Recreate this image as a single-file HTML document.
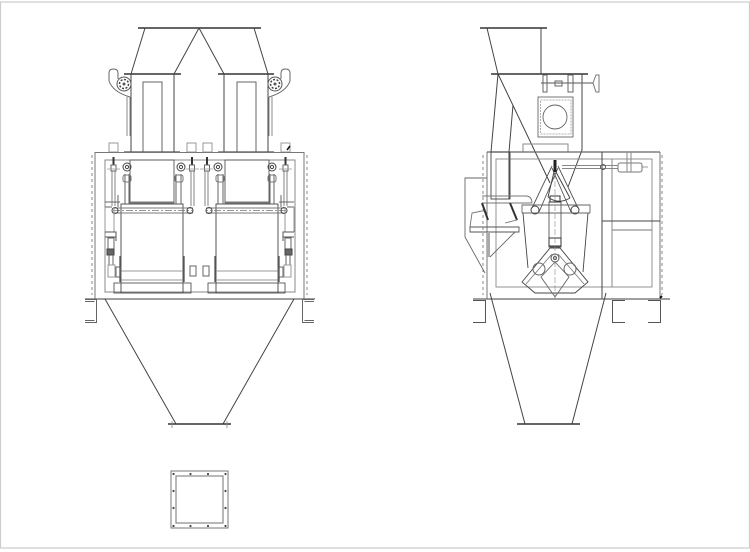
<!DOCTYPE html>
<html><head><meta charset="utf-8"><style>
html,body{margin:0;padding:0;background:#fff;width:750px;height:552px;overflow:hidden}
svg{display:block}
</style></head><body>
<svg xmlns="http://www.w3.org/2000/svg" width="750" height="552" viewBox="0 0 750 552" fill="none" stroke-linecap="butt">
<rect x="0.5" y="2" width="749" height="546" stroke="#ccc" stroke-width="1.2"/>
<defs>
<g id="half">
  <rect x="130" y="160" width="44" height="43" stroke="#555" stroke-width="0.9"/>
  <path d="M130 202.500H174" stroke="#777" stroke-width="2"/>
  <rect x="121" y="204" width="62" height="89" stroke="#444" stroke-width="0.9"/>
  <rect x="114" y="283" width="77" height="10" stroke="#555" stroke-width="0.9"/>
  <path d="M121 271H183M121 280H183" stroke="#999" stroke-width="0.9"/>
  <path d="M113 208H193M113 213H193" stroke="#777" stroke-width="0.9"/>
  <path d="M113 210.500H193" stroke="#777" stroke-width="0.7" stroke-dasharray="7 2 2 2"/>
  <circle cx="115" cy="210.500" r="3" stroke="#444"/><circle cx="190" cy="210.500" r="3" stroke="#444"/>
  <path d="M125 174V204M129 174V204M176 174V204M181 174V204" stroke="#555" stroke-width="0.9"/>
  <circle cx="127" cy="167" r="4" stroke="#444"/><circle cx="127" cy="167" r="1.600" stroke="#444"/>
  <circle cx="181" cy="167" r="4" stroke="#444"/><circle cx="181" cy="167" r="1.600" stroke="#444"/>
  <rect x="123" y="175" width="8" height="7" rx="2" stroke="#777"/>
  <rect x="175" y="175" width="8" height="7" rx="2" stroke="#777"/>
  <path d="M113.500 157V165" stroke="#333" stroke-width="2"/>
  <path d="M192 157V165" stroke="#333" stroke-width="2"/>
  <rect x="111" y="165" width="5" height="6" stroke="#666"/>
  <rect x="189.500" y="165" width="5" height="6" stroke="#666"/>
  <path d="M107 169H120M186 169H199" stroke="#999" stroke-width="0.7"/>
  <path d="M112 171V206M115 171V206M191 171V206M194 171V206" stroke="#777" stroke-width="0.9"/>
  <path d="M105 202H120M105 207H112M118 195V207" stroke="#666"/>
  <path d="M105 207V232M114 207V232" stroke="#999"/>
  <path d="M105 232H116V241M105 237H116" stroke="#555"/>
  <rect x="108" y="238" width="6" height="12" stroke="#666"/>
  <rect x="107" y="249" width="7" height="6" fill="#666" stroke="#444"/>
  <path d="M109 255V265M113 255V265" stroke="#666"/>
  <rect x="108" y="265" width="7" height="12" stroke="#999"/>
  <rect x="116" y="267" width="5" height="10" stroke="#666"/>
  <path d="M120 256V282M184 256V282" stroke="#555" stroke-width="1.300"/>
  <rect x="190" y="266" width="6" height="10" stroke="#666"/>
</g>
<g id="foot">
  <path d="M85 299.500H96.500V322.500H85M85 301.500H94.500M85 320.500H94.500" stroke="#666" stroke-width="1"/>
</g>
<g id="toph">
  <circle cx="124" cy="84" r="7" stroke="#555" stroke-width="1"/>
  <circle cx="124" cy="84" r="4.500" stroke="#444" stroke-width="1.500" stroke-dasharray="2 1.500"/>
  <circle cx="124" cy="84" r="1.500" fill="#555"/>
  <path d="M109 81V73Q109 69 113.500 69Q118 69 118 73V79M109 81Q113 92 130 97" stroke="#666" stroke-width="1"/>
  <path d="M127 97V136M130 97V136" stroke="#888" stroke-width="1"/>
</g>
</defs>

<!-- FRONT VIEW -->
<g stroke="#333">
  <path d="M138 28H261" stroke-width="1.500"/>
  <path d="M124 74H181M218 74H274" stroke-width="1.400"/>
  <path d="M145 28L131 74M199 28L174 74M199 28L224 74M254 28L268 74" stroke="#444" stroke-width="1"/>
  <path d="M131 74V152M174 74V152M224 74V152M268 74V152" stroke="#444" stroke-width="1"/>
</g>
<rect x="143" y="82" width="19" height="70" stroke="#555" stroke-width="0.9"/>
<rect x="237" y="82" width="19" height="70" stroke="#555" stroke-width="0.9"/>
<use href="#toph"/>
<use href="#toph" transform="translate(399 0) scale(-1 1)"/>
<path d="M124 152H180M218 152H274" stroke="#555" stroke-width="1.300"/>
<g stroke="#999" stroke-width="1">
  <rect x="109" y="143" width="9" height="9"/><rect x="187" y="143" width="9" height="9"/>
  <rect x="203" y="143" width="9" height="9"/><rect x="281" y="143" width="9" height="9"/>
</g>
<path d="M287 150L290 146" stroke="#111" stroke-width="1.500"/>
<rect x="95" y="152.500" width="209" height="146.500" stroke="#777" stroke-width="1"/>
<rect x="105" y="160" width="190" height="132" stroke="#888" stroke-width="1"/>
<path d="M92 155V295M307 155V295" stroke="#888" stroke-width="1" stroke-dasharray="3 3"/>
<use href="#half"/>
<use href="#half" transform="translate(399 0) scale(-1 1)"/>
<path d="M85 299H315" stroke="#666" stroke-width="1.200"/>
<use href="#foot"/>
<use href="#foot" transform="translate(399 0) scale(-1 1)"/>
<path d="M105 299L176 424M294 299L223 424" stroke="#444" stroke-width="1"/>
<path d="M168 424H231" stroke="#333" stroke-width="1.400"/>
<path d="M172 421V428M227 421V428" stroke="#888" stroke-width="0.8"/>

<!-- PLAN -->
<rect x="171" y="471" width="57" height="57" stroke="#777" stroke-width="1"/>
<rect x="176" y="476" width="47" height="47" stroke="#888" stroke-width="1.200"/>
<g fill="#444">
  <circle cx="173.500" cy="474" r="1.100"/><circle cx="190.500" cy="474" r="1.100"/><circle cx="208" cy="474" r="1.100"/><circle cx="225.500" cy="474" r="1.100"/>
  <circle cx="173.500" cy="526" r="1.100"/><circle cx="190.500" cy="526" r="1.100"/><circle cx="208" cy="526" r="1.100"/><circle cx="225.500" cy="526" r="1.100"/>
  <circle cx="173.500" cy="491" r="1.100"/><circle cx="173.500" cy="508" r="1.100"/><circle cx="225.500" cy="491" r="1.100"/><circle cx="225.500" cy="508" r="1.100"/>
</g>

<!-- SIDE VIEW -->
<path d="M480 28H547" stroke="#333" stroke-width="1.400"/>
<path d="M491 74H588" stroke="#333" stroke-width="1.400"/>
<path d="M487 28L498 74L491 152M541 28V74M498 74L550 183M513 105L509 152V199M582 74V150L568 187" stroke="#444" stroke-width="1"/>
<rect x="538" y="97" width="35" height="40" stroke="#666" stroke-width="0.9"/>
<rect x="540.500" y="100" width="30.500" height="34" stroke="#999" stroke-width="0.8" stroke-dasharray="2 1"/>
<circle cx="555" cy="117" r="12" stroke="#666" stroke-width="0.9"/>
<path d="M541 83H593" stroke="#777" stroke-width="1.200"/>
<rect x="543" y="75" width="4" height="17" stroke="#666"/>
<rect x="568" y="75" width="5" height="17" stroke="#666"/>
<rect x="555" y="81" width="7" height="5" stroke="#666"/>
<path d="M593 83L596 75H599V92H596Z" stroke="#777"/>
<rect x="523" y="144" width="45" height="8" stroke="#888"/>
<path d="M487 152H660" stroke="#666" stroke-width="1.200"/>
<path d="M487 152V299M660 152V299" stroke="#777" stroke-width="1"/>
<rect x="496" y="159" width="156" height="128" stroke="#888" stroke-width="0.9"/>
<path d="M602 152V299" stroke="#444" stroke-width="1"/>
<path d="M612 159V287" stroke="#888"/>
<path d="M602 221H660" stroke="#444" stroke-width="0.9"/>
<path d="M612 230H652" stroke="#777" stroke-width="0.9"/>
<path d="M483 155V295M662 155V295" stroke="#888" stroke-width="1" stroke-dasharray="3 3"/>
<!-- actuator top right -->
<path d="M562 165.500H618M562 168.500H618" stroke="#888"/>
<path d="M642 167H648" stroke="#999"/>
<rect x="618" y="163" width="24" height="9" rx="2" stroke="#777"/>
<path d="M627 152V172M631 152V172" stroke="#888"/>
<circle cx="603" cy="167" r="2.500" stroke="#555"/>
<!-- hatch side -->
<path d="M487 178H465V237L485 273" stroke="#666" stroke-width="0.9"/>
<rect x="491" y="152" width="19" height="47" stroke="#444" stroke-width="0.9"/>
<path d="M482 196H527Q532 197 532 203M482 203H532" stroke="#777" stroke-width="0.9"/>
<path d="M482 203L488 220M510 203L517 220" stroke="#333" stroke-width="2"/>
<path d="M482 211L472 213L470 227M517 220L505 223" stroke="#777" stroke-width="0.9"/>
<path d="M470 227H519V232H470Z" stroke="#555" stroke-width="0.9"/>
<path d="M515 232L490 257" stroke="#666" stroke-width="0.9"/>
<path d="M488.500 232V257" stroke="#aaa" stroke-width="3"/>
<!-- bucket -->
<path d="M522 213V205H590V213M522 213H590" stroke="#666" stroke-width="0.9"/>
<path d="M523 213L528 268M588 213L583 272" stroke="#444" stroke-width="0.9"/>
<path d="M522 282L550 248H560L588 282L575 293H535L522 282Z" stroke="#444" stroke-width="0.9"/>
<path d="M526 284L552 254M584 284L558 254" stroke="#777" stroke-width="0.8"/>
<circle cx="539" cy="269" r="6" stroke="#666"/><circle cx="570" cy="269" r="6" stroke="#666"/>
<path d="M555 262L541 277L555 297L569 277L555 262" stroke="#666" stroke-width="0.9"/>
<circle cx="555" cy="258" r="4" stroke="#555"/>
<circle cx="555" cy="258" r="1.500" stroke="#555"/>
<rect x="549" y="202" width="12" height="45" stroke="#555" stroke-width="0.9"/>
<rect x="549" y="238" width="12" height="8" stroke="#333"/>
<path d="M555 165V300" stroke="#888" stroke-width="0.6" stroke-dasharray="6 2"/>
<!-- arms -->
<path d="M552 166L532 208M558 168L539 212M558 166L578 208M552 168L571 212" stroke="#555" stroke-width="0.9"/>
<path d="M554 172L548 197M556 172L570 198" stroke="#444" stroke-width="1"/>
<path d="M548 197Q558 205 570 198" stroke="#444" stroke-width="0.9"/>
<path d="M555 160V172" stroke="#222" stroke-width="3"/>
<circle cx="535" cy="210" r="4" stroke="#444"/><circle cx="575" cy="210" r="4" stroke="#444"/>
<rect x="550" y="196" width="10" height="6" stroke="#333"/>
<!-- base and feet right -->
<path d="M473 299H670" stroke="#666" stroke-width="1.200"/>
<path d="M473 300.500H485.500V322.500H473" stroke="#555"/>
<path d="M625 300.500H612.500V322.500H625M648 300.500H660.500V322.500H648" stroke="#555"/>
<path d="M660 298L662 296" stroke="#111" stroke-width="2"/>
<path d="M490 293L525 424M572 424L606 293" stroke="#444" stroke-width="1"/>
<path d="M517 424H580" stroke="#333" stroke-width="1.400"/>
</svg>
</body></html>
